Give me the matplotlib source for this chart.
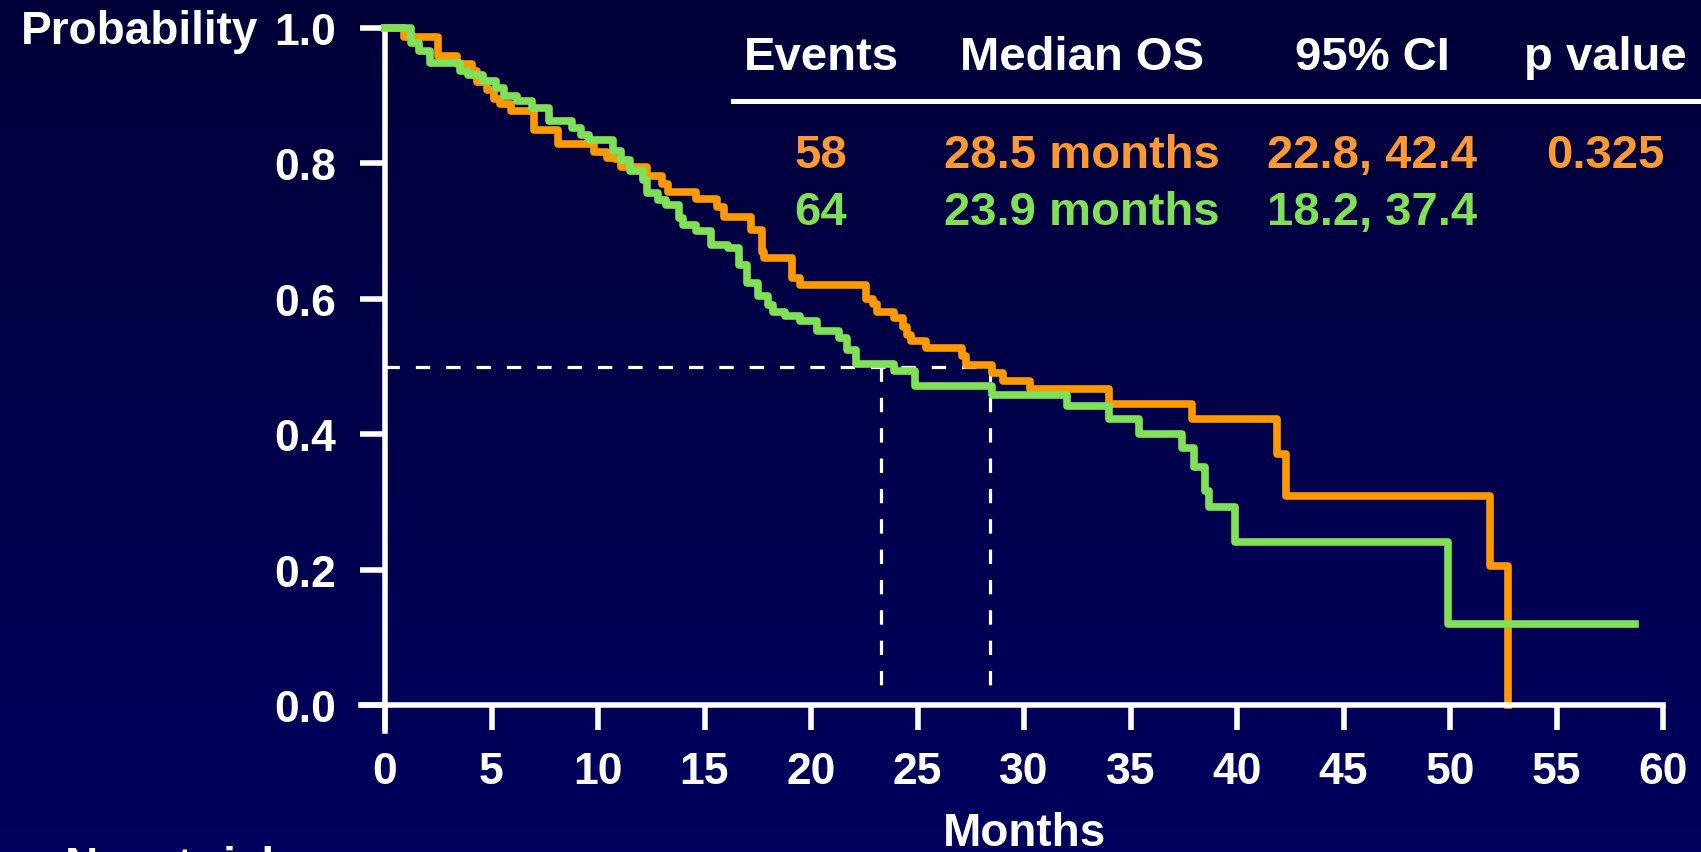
import numpy as np
import matplotlib
matplotlib.use("Agg")
import matplotlib.pyplot as plt
from matplotlib.colors import LinearSegmentedColormap
from matplotlib.lines import Line2D

# -- Data --

# Kaplan-Meier steps: time of each drop (months) and survival after it
orange_t = [0, 0.9, 2.5, 3.4, 4.1, 4.3, 4.8, 5.1, 5.4, 5.9, 7.0, 8.1, 9.8, 10.4, 10.8,
            11.1, 12.3, 13.0, 13.3, 14.6, 15.6, 15.9, 17.2, 17.7, 17.8, 19.1, 19.5,
            22.6, 22.9, 23.1, 23.9, 24.3, 24.5, 24.7, 25.4, 27.1, 27.3, 28.5, 29.0,
            30.3, 34.0, 37.9, 41.9, 42.3, 51.9, 52.7]
orange_s = [1.0, 0.986, 0.958, 0.947, 0.937, 0.920, 0.908, 0.895, 0.888, 0.878, 0.849,
            0.829, 0.817, 0.808, 0.807, 0.795, 0.782, 0.770, 0.758, 0.748, 0.736, 0.721,
            0.701, 0.669, 0.661, 0.630, 0.621, 0.600, 0.593, 0.581, 0.571, 0.559, 0.546,
            0.537, 0.527, 0.515, 0.502, 0.490, 0.478, 0.467, 0.445, 0.423, 0.371, 0.308,
            0.205, 0.0]

green_t = [0, 1.2, 1.6, 2.1, 3.5, 3.9, 4.6, 5.2, 5.6, 6.2, 6.9, 7.7, 8.8, 9.2, 9.6, 10.7,
           11.1, 11.5, 12.1, 12.3, 12.8, 13.2, 13.8, 14.0, 14.6, 15.3, 16.1, 16.6, 17.0,
           17.5, 18.0, 18.2, 18.8, 19.5, 20.3, 21.3, 21.7, 22.1, 23.9, 24.9, 28.5, 32.0,
           34.0, 35.4, 37.4, 38.0, 38.5, 38.7, 39.9, 49.9, 58.7]
green_s = [1.0, 0.978, 0.966, 0.948, 0.936, 0.930, 0.921, 0.911, 0.900, 0.892, 0.882,
           0.862, 0.852, 0.842, 0.834, 0.818, 0.805, 0.789, 0.776, 0.756, 0.746, 0.739,
           0.720, 0.709, 0.700, 0.680, 0.675, 0.650, 0.623, 0.604, 0.591, 0.581, 0.575,
           0.567, 0.553, 0.542, 0.525, 0.504, 0.494, 0.471, 0.458, 0.441, 0.423, 0.401,
           0.379, 0.352, 0.316, 0.293, 0.241, 0.120, 0.120]

median_x = [23.3, 28.4]
x_ticks = list(range(0, 61, 5))
y_ticks = [0.0, 0.2, 0.4, 0.6, 0.8, 1.0]

headers = ["Events", "Median OS", "95% CI", "p value"]
row_orange = ["58", "28.5 months", "22.8, 42.4", "0.325"]
row_green = ["64", "23.9 months", "18.2, 37.4", ""]

ORANGE = "#FF9900"
ORANGE_TXT = "#FF9933"
GREEN = "#80E058"

# -- Figure --

W, H = 1701, 853
plt.rcParams['font.family'] = ['Liberation Sans', 'DejaVu Sans']
plt.rcParams['font.weight'] = 'bold'

fig = plt.figure(figsize=(W / 100, H / 100), dpi=100)

def fy(y):
    return 1 - y / H

# navy gradient background
bg = fig.add_axes([0, 0, 1, 1])
bg.axis("off")
cmap = LinearSegmentedColormap.from_list("bg", ["#000038", "#00005E"])
bg.imshow(np.linspace(0, 1, 256).reshape(-1, 1), aspect="auto", cmap=cmap,
          extent=[0, 1, 0, 1])

# axes: 0 months at x=385px, 60 at 1663px; 1.0 at y=29px, 0.0 at 706px
px_month = (1663 - 385) / 60
px_unit = 706 - 29
x_lo = -24 / px_month
y_lo = -26 / px_unit
ax = fig.add_axes([361 / W, fy(732), (1663 - 361) / W, (732 - 29) / H])
ax.patch.set_alpha(0)
ax.set_xlim(x_lo, 60)
ax.set_ylim(y_lo, 1.0)

for side in ["top", "right"]:
    ax.spines[side].set_visible(False)
for side in ["left", "bottom"]:
    ax.spines[side].set_position(("data", 0))
    ax.spines[side].set_color("white")
    ax.spines[side].set_linewidth(4)

ax.set_xticks(x_ticks)
ax.set_yticks(y_ticks)
ax.set_yticklabels([f"{v:.1f}" for v in y_ticks])
ax.tick_params(direction="out", length=18, width=4, colors="white", labelsize=32)
ax.tick_params(axis="x", pad=15)
ax.tick_params(axis="y", pad=17)

# median guide lines
ax.plot([0, median_x[1]], [0.5, 0.5], color="white", lw=2.3, dashes=(4.5, 5), zorder=1)
for m in median_x:
    ax.plot([m, m], [0.5, 0.024], color="white", lw=2.3, dashes=(4.5, 5), zorder=1)

# survival curves
ax.step(orange_t, orange_s, where="post", color=ORANGE, lw=5.5, zorder=2, clip_on=False)
ax.step(green_t, green_s, where="post", color=GREEN, lw=5.5, zorder=3, clip_on=False)

# labels
fig.text(258 / W, fy(44), "Probability", color="white", fontsize=33, ha="right",
         va="baseline")
fig.text(1025 / W, fy(846), "Months", color="white", fontsize=33, ha="center",
         va="baseline")
fig.text(65 / W, fy(846), "No. at risk", color="white", fontsize=33, ha="left",
         va="top")

# summary table
col_x = [821, 1082, 1372, 1605]
for cx, h, a, b in zip(col_x, headers, row_orange, row_green):
    fig.text(cx / W, fy(70), h, color="white", fontsize=34, ha="center", va="baseline")
    fig.text(cx / W, fy(168), a, color=ORANGE_TXT, fontsize=34, ha="center", va="baseline")
    fig.text(cx / W, fy(225), b, color=GREEN, fontsize=34, ha="center", va="baseline")
fig.add_artist(Line2D([733 / W, 1], [fy(102), fy(102)], color="white", lw=3.6))

fig.savefig("out.png", dpi=100)
